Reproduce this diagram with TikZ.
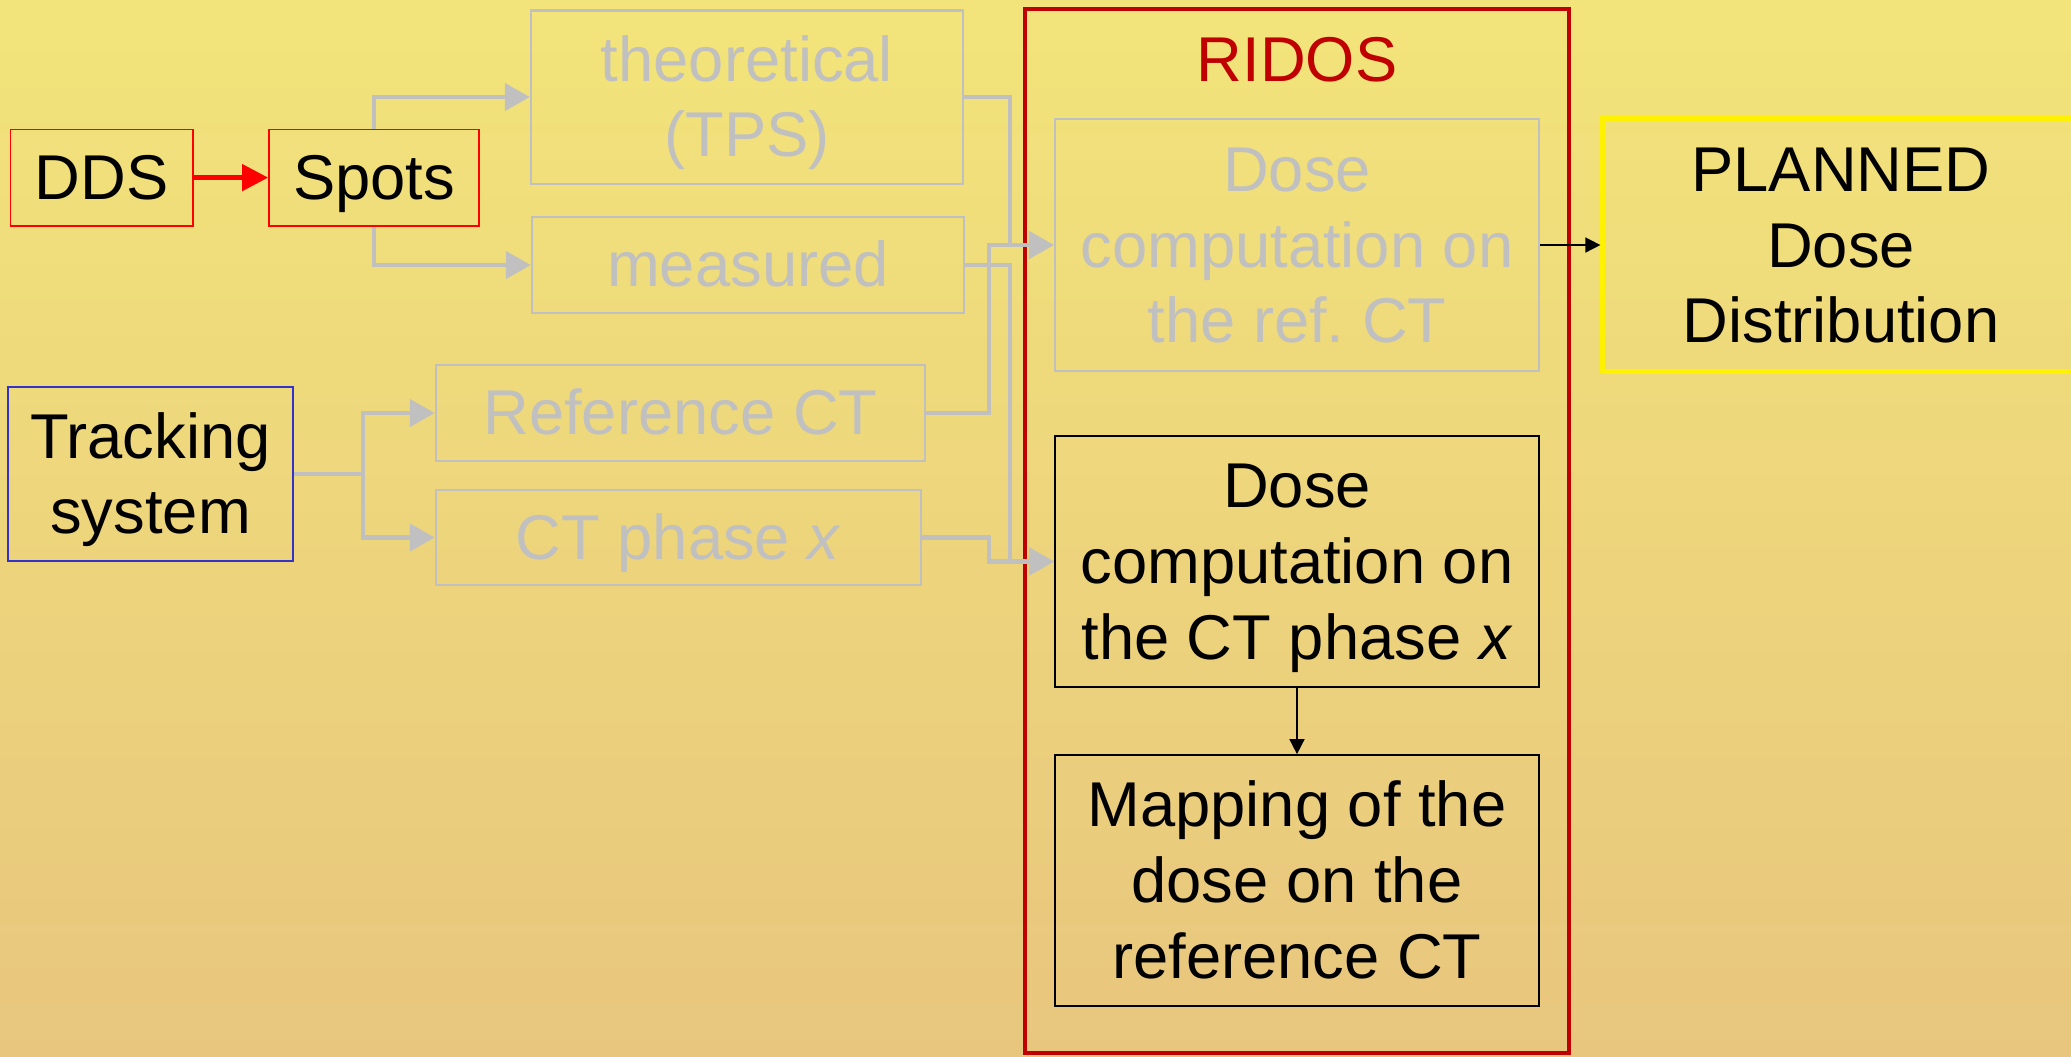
\documentclass[tikz,border=0pt]{standalone}
\usepackage{fontspec}
\setmainfont{Liberation Sans}
\usetikzlibrary{arrows.meta}
\definecolor{bgtop}{HTML}{F2E47A}
\definecolor{bgbottom}{HTML}{E8C67E}
\definecolor{greyline}{HTML}{C0C0C0}
\definecolor{ridosred}{HTML}{C00000}
\definecolor{trackblue}{HTML}{3333CC}
\newcommand{\topstrut}{\rule{0pt}{16.3pt}}
\newcommand{\botstrut}{\rule[-3.8pt]{0pt}{3.8pt}}
\begin{document}
\begin{tikzpicture}[x=0.01cm, y=-0.01cm,
    every node/.style={font=\fontsize{18pt}{21.6pt}\selectfont, align=center, inner sep=0pt},
    oneline/.style={text height=16.3pt, text depth=3.8pt},
    greybox/.style={draw=greyline, text=greyline, line width=0.6pt},
    redbox/.style={draw=red, line width=0.45pt},
    blackbox/.style={draw=black, line width=0.45pt},
    greyarrow/.style={draw=greyline, line width=1.3pt, -{Triangle[length=0.25cm, width=0.27cm]}},
    redarrow/.style={draw=red, line width=1.3pt, -{Triangle[length=0.26cm, width=0.26cm]}},
    blackarrow/.style={draw=black, line width=0.45pt, -{Triangle[length=0.15cm, width=0.15cm]}}]
  \useasboundingbox (0,0) rectangle (2071,1056);
  \clip (0,0) rectangle (2071,1056);
  \shade[top color=bgtop, bottom color=bgbottom] (0,0) rectangle (2071,1056);

  % sources
  \node[redbox, oneline, minimum width=1.82cm, minimum height=0.965cm] (dds) at (101.7,177.6) {DDS};
  \node[redbox, oneline, minimum width=2.10cm, minimum height=0.965cm] (spots) at (374,177.6) {Spots};
  \node[greybox, minimum width=4.32cm, minimum height=1.73cm] (theo) at (747,97) {\topstrut theoretical\\(TPS)\botstrut};
  \node[greybox, oneline, minimum width=4.32cm, minimum height=0.965cm] (meas) at (748,265) {measured};
  \node[draw=trackblue, line width=0.45pt, minimum width=2.85cm, minimum height=1.74cm] (track) at (150.5,474) {\topstrut Tracking\\system\botstrut};
  \node[greybox, oneline, minimum width=4.89cm, minimum height=0.965cm] (refct) at (680.5,413) {Reference CT};
  \node[greybox, oneline, minimum width=4.85cm, minimum height=0.95cm] (ctx) at (678.5,537.5) {CT phase \textit{x}};

  % RIDOS
  \node[draw=ridosred, line width=1.2pt, minimum width=5.44cm, minimum height=10.44cm] (ridos) at (1297,531) {};
  \node[text=ridosred, oneline] (ridostitle) at (1297,60) {RIDOS};
  \node[greybox, minimum width=4.84cm, minimum height=2.52cm] (doseref) at (1297,245) {\topstrut Dose\\computation on\\the ref.\ CT\botstrut};
  \node[blackbox, minimum width=4.84cm, minimum height=2.51cm] (dosex) at (1297,561.5) {\topstrut Dose\\computation on\\the CT phase \textit{x}\botstrut};
  \node[blackbox, minimum width=4.84cm, minimum height=2.51cm] (mapping) at (1297,880.5) {\topstrut Mapping of the\\dose on the\\reference CT\botstrut};
  \node[draw=yellow, line width=1.4pt, minimum width=4.76cm, minimum height=2.52cm] (planned) at (1841,245) {\topstrut PLANNED\\Dose\\Distribution\botstrut};

  % connectors
  \coordinate (tsplit) at (363,474);
  \coordinate (busA) at (1010,0);
  \coordinate (busB) at (989,0);
  \draw[redarrow] (dds) -- (spots);
  \draw[greyarrow] (spots.north) |- (theo.west);
  \draw[greyarrow] (spots.south) |- (meas.west);
  \draw[greyline, line width=1.3pt] (track.east) -- (tsplit);
  \draw[greyarrow] (tsplit) |- (refct.west);
  \draw[greyarrow] (tsplit) |- (ctx.west);
  \draw[greyarrow] (theo.east) -| (busA |- doseref.west) -- (doseref.west);
  \draw[greyarrow] (meas.east) -| (busA |- dosex.west) -- (dosex.west);
  \draw[greyarrow] (refct.east) -| (busB |- doseref.west) -- (doseref.west);
  \draw[greyarrow] (ctx.east) -| (busB |- dosex.west) -- (dosex.west);
  \draw[blackarrow] (doseref.east) -- (planned.west);
  \draw[blackarrow] (dosex.south) -- (mapping.north);
\end{tikzpicture}
\end{document}
